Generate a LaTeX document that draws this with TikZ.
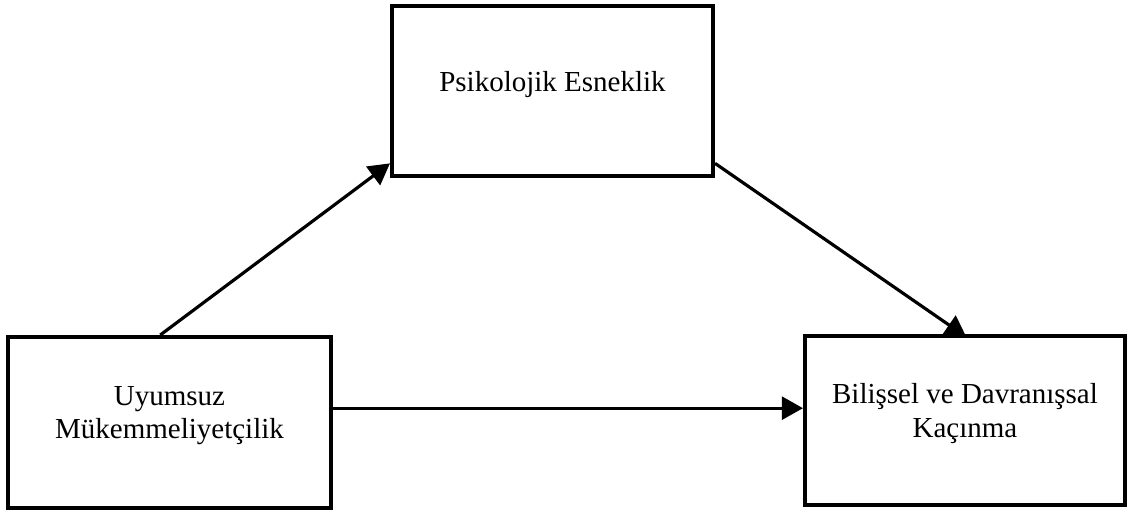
\documentclass[tikz,border=0pt]{standalone}
\usepackage{fontspec}
\setmainfont{Liberation Serif}
\usetikzlibrary{arrows.meta,backgrounds}
\tikzset{>={Triangle[length=12pt,width=13pt]}}
\tikzset{
  box/.style = {
    draw, fill=white, line width=2.3pt,
    minimum width=6.42cm, minimum height=3.4cm, text depth=0.4cm,
    align=center, font=\fontsize{16.5}{19}\selectfont
  },
  link/.style = {->, line width=1.8pt}
}

\begin{document}
\begin{tikzpicture}
  \useasboundingbox (0,0) rectangle (22.58,10.26);
  % boxes
  \node[box] (psy) at (11.05,8.44) {Psikolojik Esneklik};
  \node[box, minimum width=6.46cm, minimum height=3.42cm] (uyum) at (3.39,1.81) {Uyumsuz\\Mükemmeliyetçilik};
  \node[box, minimum width=6.4cm, minimum height=3.38cm] (bil) at (19.3,1.85) {Bilişsel ve Davranışsal\\Kaçınma};
  % paths, behind the boxes
  \begin{scope}[on background layer]
    \draw[link] (uyum.96) -- (psy.204);
    \draw[link, shorten >=-3pt] (psy.336) -- (bil.92);
    \draw[link] (uyum.5) -- (uyum.5 -| bil.west);
  \end{scope}
\end{tikzpicture}
\end{document}
